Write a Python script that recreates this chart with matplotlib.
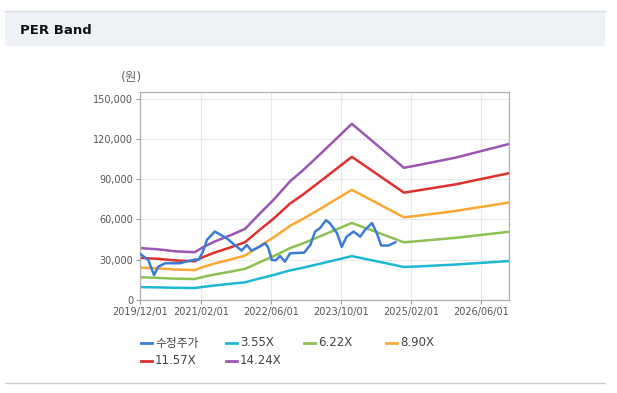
import matplotlib
matplotlib.use('Agg')
import matplotlib.pyplot as plt
from matplotlib.lines import Line2D
from matplotlib.patches import Rectangle

plt.rcParams['font.family'] = ['DejaVu Sans', 'Noto Sans CJK KR']

# months since 2019/12/01
band_months = [0, 4, 8, 12.5, 14.5, 17, 20.5, 24, 27.4, 30.5, 34.3, 37, 41.1, 48.4, 60.3, 64, 72, 84.2]
per_355 = [9600, 9400, 9100, 8900, 9800, 10800, 12000, 13200, 16100, 18600, 22100, 23900, 27000, 32700, 24600, 25100, 26400, 29000]
per_622 = [16900, 16500, 15900, 15600, 17300, 19000, 21000, 23200, 28200, 32600, 38700, 41900, 47400, 57400, 43000, 44000, 46300, 50800]
per_890 = [24200, 23600, 22700, 22300, 24700, 27200, 30000, 33100, 40300, 46600, 55300, 60000, 67800, 82100, 61600, 63000, 66300, 72600]
per_1157 = [31400, 30700, 29500, 28900, 32100, 35300, 39000, 43100, 52400, 60600, 71900, 78000, 88200, 106700, 80000, 81900, 86100, 94400]
per_1424 = [38700, 37800, 36300, 35600, 39500, 43500, 48000, 53000, 64500, 74600, 88500, 96000, 108500, 131300, 98500, 100800, 106000, 116200]

price_months = [0, 1.9, 3.2, 4.2, 5.8, 9.1, 10.5, 12.6, 13.4, 14.3, 15.3, 17.1, 19.8, 22.1, 23.2, 24.4,
                25.5, 27.4, 28.6, 29.3, 30.1, 31.0, 32.0, 33.1, 34.3, 37.5, 38.9, 40.0, 41.1, 42.5,
                43.4, 45.0, 46.1, 47.2, 48.8, 50.3, 51.4, 53.0, 54.1, 55.1, 56.8, 58.3]
price = [34500, 29800, 18600, 24900, 27400, 27400, 28600, 30200, 30000, 35500, 44800, 51000, 46000, 39800, 36800, 41000,
         36800, 39800, 42300, 39000, 29800, 29600, 32800, 28600, 34800, 35300, 41000, 51000, 53500, 59500,
         57200, 49800, 39600, 47200, 51000, 47200, 52200, 57400, 49800, 40600, 40600, 43000]

tick_months = [0, 14, 30, 46, 62, 78]
tick_labels = ['2019/12/01', '2021/02/01', '2022/06/01', '2023/10/01', '2025/02/01', '2026/06/01']
y_ticks = [0, 30000, 60000, 90000, 120000, 150000]

series = [
    ('수정주가', price_months, price, '#3b7dd6'),
    ('3.55X', band_months, per_355, '#1fb8d2'),
    ('6.22X', band_months, per_622, '#8cc152'),
    ('8.90X', band_months, per_890, '#fba833'),
    ('11.57X', band_months, per_1157, '#e0302b'),
    ('14.24X', band_months, per_1424, '#9b55b2'),
]

W, H = 617, 393
fig = plt.figure(figsize=(W / 100, H / 100), dpi=100)
fig.patch.set_facecolor('white')

# header band
fig.add_artist(Rectangle((5 / W, 1 - 46 / H), 600 / W, 35 / H, transform=fig.transFigure,
                         facecolor='#eef2f7', edgecolor='none'))
fig.add_artist(Line2D([5 / W, 605 / W], [1 - 11 / H, 1 - 11 / H], transform=fig.transFigure,
                      color='#d6d9de', lw=1))
fig.add_artist(Line2D([5 / W, 605 / W], [1 - 383 / H, 1 - 383 / H], transform=fig.transFigure,
                      color='#cfcfcf', lw=1))
fig.text(20 / W, 1 - 30 / H, 'PER Band', fontsize=9.5, fontweight='bold', color='#111111', va='center')

ax = fig.add_axes([140 / W, 1 - 300 / H, 369 / W, 208 / H])
ax.set_xlim(0, 84.3)
ax.set_ylim(0, 155000)

for name, xs, ys, col in series[1:] + series[:1]:
    ax.plot(xs, ys, color=col, lw=1.8, solid_joinstyle='round', zorder=3 if name == '수정주가' else 2)

ax.set_xticks(tick_months)
ax.set_xticklabels(tick_labels)
ax.set_yticks(y_ticks)
ax.set_yticklabels([f'{v:,}' for v in y_ticks])
ax.grid(True, color='#e9e9e9', lw=0.8)
ax.set_axisbelow(True)
ax.tick_params(labelsize=7, colors='#999999', labelcolor='#555555', length=3, width=0.8, pad=2)
for s in ax.spines.values():
    s.set_color('#b0b0b0')
    s.set_linewidth(0.9)

fig.text(131 / W, 1 - 77 / H, '(원)', fontsize=9, color='#666666', ha='center', va='center')

# legend
legend_pos = [(141, 343), (226, 343), (304, 343), (386, 343), (141, 361), (226, 361)]
for (name, xs, ys, col), (lx, ly) in zip(series, legend_pos):
    fig.add_artist(Line2D([lx / W, (lx + 11) / W], [1 - ly / H, 1 - ly / H], transform=fig.transFigure,
                          color=col, lw=2))
    fig.text((lx + 14) / W, 1 - ly / H, name, fontsize=8.5, color='#444444', va='center')

fig.savefig('out.png', dpi=100)
